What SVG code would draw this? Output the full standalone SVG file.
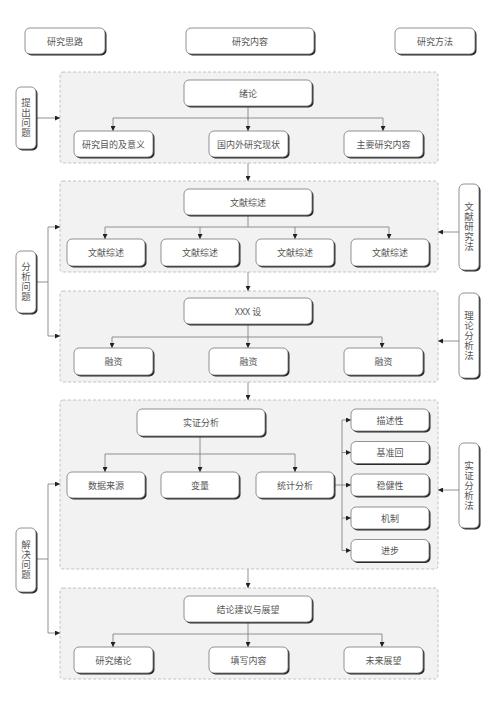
<svg xmlns="http://www.w3.org/2000/svg" width="500" height="707" viewBox="0 0 500 707">
<defs>
<marker id="ah" viewBox="0 0 10 10" refX="10" refY="5" markerWidth="5" markerHeight="5" orient="auto" markerUnits="userSpaceOnUse">
<path d="M0,0 L10,5 L0,10 z" fill="#222"/>
</marker>
</defs>
<style>
.grp{fill:#f2f2f2;stroke:#b5b5b5;stroke-width:0.8;stroke-dasharray:3,2}
.sh{fill:#2a2a2a}
.bx{fill:#fff;stroke:#777;stroke-width:0.8}
.t{font-family:"Noto Sans CJK SC","Liberation Sans",sans-serif;font-size:9px;fill:#555;text-anchor:middle;dominant-baseline:central}
.v{font-family:"Noto Sans CJK SC","Liberation Sans",sans-serif;font-size:9.5px;fill:#555;text-anchor:middle;writing-mode:vertical-rl;letter-spacing:0.5px}
.ln{fill:none;stroke:#777;stroke-width:0.8}
.ar{fill:none;stroke:#777;stroke-width:0.8;marker-end:url(#ah)}
</style>
<rect width="500" height="707" fill="#fff"/>

<g id="groups">
<rect class="grp" x="60" y="72" width="378" height="91" rx="3"/>
<rect class="grp" x="60" y="181" width="378" height="91" rx="3"/>
<rect class="grp" x="60" y="291" width="378" height="91" rx="3"/>
<rect class="grp" x="60" y="400" width="378" height="169" rx="3"/>
<rect class="grp" x="60" y="588" width="378" height="91" rx="3"/>
</g>

<g id="connectors">
<!-- group 1 -->
<path class="ar" d="M248,106 V131"/>
<path class="ln" d="M113,118 H383"/>
<path class="ar" d="M113,118 V131"/>
<path class="ar" d="M383,118 V131"/>
<!-- group 2 -->
<path class="ln" d="M248,216 V227 M105,227 H389"/>
<path class="ar" d="M105,227 V239"/>
<path class="ar" d="M200,227 V239"/>
<path class="ar" d="M295,227 V239"/>
<path class="ar" d="M389,227 V239"/>
<!-- group 3 -->
<path class="ar" d="M248,324 V348"/>
<path class="ln" d="M112,337 H382"/>
<path class="ar" d="M112,337 V348"/>
<path class="ar" d="M382,337 V348"/>
<!-- group 4 -->
<path class="ar" d="M200,437 V472"/>
<path class="ln" d="M105,454 H295"/>
<path class="ar" d="M105,454 V472"/>
<path class="ar" d="M295,454 V472"/>
<path class="ln" d="M334,485 H342 M342,420 V550.5"/>
<path class="ar" d="M342,420 H351"/>
<path class="ar" d="M342,452.5 H351"/>
<path class="ar" d="M342,485 H351"/>
<path class="ar" d="M342,518 H351"/>
<path class="ar" d="M342,550.5 H351"/>
<!-- group 5 -->
<path class="ar" d="M248,622 V647"/>
<path class="ln" d="M113,634 H382"/>
<path class="ar" d="M113,634 V647"/>
<path class="ar" d="M382,634 V647"/>
<!-- between groups -->
<path class="ar" d="M248,163 V181"/>
<path class="ar" d="M248,272 V291"/>
<path class="ar" d="M248,382 V400"/>
<path class="ar" d="M248,569 V588"/>
<!-- left side -->
<path class="ar" d="M36,118 H60"/>
<path class="ln" d="M36,282 H48 M48,227 V336"/>
<path class="ar" d="M48,227 H60"/>
<path class="ar" d="M48,336 H60"/>
<path class="ln" d="M36,559 H48 M48,484 V633"/>
<path class="ar" d="M48,484 H60"/>
<path class="ar" d="M48,633 H60"/>
<!-- right side -->
<path class="ar" d="M459,232 H438"/>
<path class="ar" d="M459,341 H438"/>
<path class="ar" d="M459,490 H438"/>
</g>

<g id="h1"><rect class="sh" x="26.5" y="29.5" width="80" height="26" rx="5"/><rect class="bx" x="25" y="28" width="80" height="26" rx="5"/><text class="t" x="65" y="41">研究思路</text></g>
<g id="h2"><rect class="sh" x="187.5" y="29.5" width="128" height="26" rx="5"/><rect class="bx" x="186" y="28" width="128" height="26" rx="5"/><text class="t" x="250" y="41">研究内容</text></g>
<g id="h3"><rect class="sh" x="396.5" y="29.5" width="80" height="26" rx="5"/><rect class="bx" x="395" y="28" width="80" height="26" rx="5"/><text class="t" x="435" y="41">研究方法</text></g>

<g id="n-xulun"><rect class="sh" x="185.5" y="81.5" width="128" height="26" rx="5"/><rect class="bx" x="184" y="80" width="128" height="26" rx="5"/><text class="t" x="248" y="93">绪论</text></g>
<g id="n-mudi"><rect class="sh" x="75.5" y="132.5" width="79" height="26" rx="5"/><rect class="bx" x="74" y="131" width="79" height="26" rx="5"/><text class="t" x="113.5" y="144">研究目的及意义</text></g>
<g id="n-xianzhuang"><rect class="sh" x="210.5" y="132.5" width="79" height="26" rx="5"/><rect class="bx" x="209" y="131" width="79" height="26" rx="5"/><text class="t" x="248.5" y="144">国内外研究现状</text></g>
<g id="n-neirong"><rect class="sh" x="345.5" y="132.5" width="79" height="26" rx="5"/><rect class="bx" x="344" y="131" width="79" height="26" rx="5"/><text class="t" x="383.5" y="144">主要研究内容</text></g>

<g id="n-wx"><rect class="sh" x="185.5" y="190.5" width="128" height="26" rx="5"/><rect class="bx" x="184" y="189" width="128" height="26" rx="5"/><text class="t" x="248" y="202">文献综述</text></g>
<g id="n-wx1"><rect class="sh" x="68.5" y="240.5" width="78" height="27" rx="5"/><rect class="bx" x="67" y="239" width="78" height="27" rx="5"/><text class="t" x="106" y="252.5">文献综述</text></g>
<g id="n-wx2"><rect class="sh" x="162.5" y="240.5" width="78" height="27" rx="5"/><rect class="bx" x="161" y="239" width="78" height="27" rx="5"/><text class="t" x="200" y="252.5">文献综述</text></g>
<g id="n-wx3"><rect class="sh" x="257.5" y="240.5" width="78" height="27" rx="5"/><rect class="bx" x="256" y="239" width="78" height="27" rx="5"/><text class="t" x="295" y="252.5">文献综述</text></g>
<g id="n-wx4"><rect class="sh" x="352.5" y="240.5" width="78" height="27" rx="5"/><rect class="bx" x="351" y="239" width="78" height="27" rx="5"/><text class="t" x="390" y="252.5">文献综述</text></g>

<g id="n-xxx"><rect class="sh" x="185.5" y="299.5" width="128" height="26" rx="5"/><rect class="bx" x="184" y="298" width="128" height="26" rx="5"/><text class="t" x="248" y="311">XXX 设</text></g>
<g id="n-rz1"><rect class="sh" x="75.5" y="349.5" width="79" height="27" rx="5"/><rect class="bx" x="74" y="348" width="79" height="27" rx="5"/><text class="t" x="113.5" y="361.5">融资</text></g>
<g id="n-rz2"><rect class="sh" x="210.5" y="349.5" width="79" height="27" rx="5"/><rect class="bx" x="209" y="348" width="79" height="27" rx="5"/><text class="t" x="248.5" y="361.5">融资</text></g>
<g id="n-rz3"><rect class="sh" x="345.5" y="349.5" width="79" height="27" rx="5"/><rect class="bx" x="344" y="348" width="79" height="27" rx="5"/><text class="t" x="383.5" y="361.5">融资</text></g>

<g id="n-sz"><rect class="sh" x="138.5" y="410.5" width="128" height="27" rx="5"/><rect class="bx" x="137" y="409" width="128" height="27" rx="5"/><text class="t" x="201" y="422.5">实证分析</text></g>
<g id="n-sj"><rect class="sh" x="68.5" y="473.5" width="78" height="26" rx="5"/><rect class="bx" x="67" y="472" width="78" height="26" rx="5"/><text class="t" x="106" y="485">数据来源</text></g>
<g id="n-bl"><rect class="sh" x="162.5" y="473.5" width="78" height="26" rx="5"/><rect class="bx" x="161" y="472" width="78" height="26" rx="5"/><text class="t" x="200" y="485">变量</text></g>
<g id="n-tj"><rect class="sh" x="257.5" y="473.5" width="78" height="26" rx="5"/><rect class="bx" x="256" y="472" width="78" height="26" rx="5"/><text class="t" x="295" y="485">统计分析</text></g>
<g id="n-ms"><rect class="sh" x="352.5" y="410.5" width="78" height="22" rx="5"/><rect class="bx" x="351" y="409" width="78" height="22" rx="5"/><text class="t" x="390" y="420">描述性</text></g>
<g id="n-jz"><rect class="sh" x="352.5" y="443" width="78" height="22" rx="5"/><rect class="bx" x="351" y="441.5" width="78" height="22" rx="5"/><text class="t" x="390" y="452.5">基准回</text></g>
<g id="n-wj"><rect class="sh" x="352.5" y="475.5" width="78" height="22" rx="5"/><rect class="bx" x="351" y="474" width="78" height="22" rx="5"/><text class="t" x="390" y="485">稳健性</text></g>
<g id="n-jzh"><rect class="sh" x="352.5" y="508.5" width="78" height="22" rx="5"/><rect class="bx" x="351" y="507" width="78" height="22" rx="5"/><text class="t" x="390" y="518">机制</text></g>
<g id="n-jb"><rect class="sh" x="352.5" y="541" width="78" height="22" rx="5"/><rect class="bx" x="351" y="539.5" width="78" height="22" rx="5"/><text class="t" x="390" y="550.5">进步</text></g>

<g id="n-jl"><rect class="sh" x="185.5" y="597.5" width="128" height="26" rx="5"/><rect class="bx" x="184" y="596" width="128" height="26" rx="5"/><text class="t" x="248" y="609">结论建议与展望</text></g>
<g id="n-yj"><rect class="sh" x="75.5" y="648.5" width="79" height="26" rx="5"/><rect class="bx" x="74" y="647" width="79" height="26" rx="5"/><text class="t" x="113.5" y="660">研究绪论</text></g>
<g id="n-tx"><rect class="sh" x="210.5" y="648.5" width="79" height="26" rx="5"/><rect class="bx" x="209" y="647" width="79" height="26" rx="5"/><text class="t" x="248.5" y="660">填写内容</text></g>
<g id="n-wl"><rect class="sh" x="345.5" y="648.5" width="79" height="26" rx="5"/><rect class="bx" x="344" y="647" width="79" height="26" rx="5"/><text class="t" x="383.5" y="660">未来展望</text></g>

<g id="s-tc"><rect class="sh" x="17.5" y="88.5" width="20" height="62" rx="5"/><rect class="bx" x="16" y="87" width="20" height="62" rx="5"/><text class="v" x="26" y="118">提出问题</text></g>
<g id="s-fx"><rect class="sh" x="17.5" y="252.5" width="20" height="62" rx="5"/><rect class="bx" x="16" y="251" width="20" height="62" rx="5"/><text class="v" x="26" y="282">分析问题</text></g>
<g id="s-jj"><rect class="sh" x="17.5" y="529.5" width="20" height="64" rx="5"/><rect class="bx" x="16" y="528" width="20" height="64" rx="5"/><text class="v" x="26" y="560">解决问题</text></g>
<g id="s-wx"><rect class="sh" x="460.5" y="185.5" width="20" height="86" rx="5"/><rect class="bx" x="459" y="184" width="20" height="86" rx="5"/><text class="v" x="469" y="227">文献研究法</text></g>
<g id="s-ll"><rect class="sh" x="460.5" y="294.5" width="20" height="85" rx="5"/><rect class="bx" x="459" y="293" width="20" height="85" rx="5"/><text class="v" x="469" y="335.5">理论分析法</text></g>
<g id="s-sz"><rect class="sh" x="460.5" y="444.5" width="20" height="85" rx="5"/><rect class="bx" x="459" y="443" width="20" height="85" rx="5"/><text class="v" x="469" y="485.5">实证分析法</text></g>
</svg>
